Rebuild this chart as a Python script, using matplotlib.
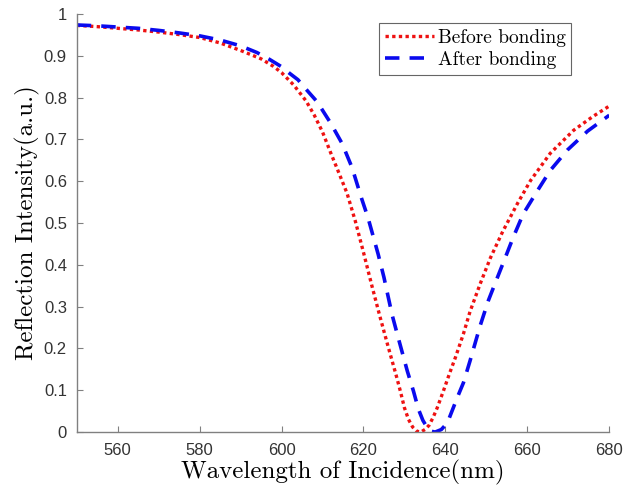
import matplotlib
matplotlib.use("Agg")
import matplotlib.pyplot as plt

# wavelength (nm) / reflection
wl_before = [550, 555, 560, 565, 570, 575, 580, 585, 590, 595, 598, 600, 603, 606,
             608, 610, 612, 614, 616, 618, 620, 622, 624, 626, 628, 629, 630, 631,
             632, 633, 634, 635, 636, 637, 638, 639.5, 641, 642.5, 644.4, 646, 648.5,
             651, 654, 657.6, 660.8, 665.6, 671.3, 676, 680]
r_before = [0.973, 0.970, 0.966, 0.962, 0.957, 0.951, 0.944, 0.931, 0.913, 0.893, 0.875,
            0.860, 0.830, 0.792, 0.758, 0.718, 0.668, 0.620, 0.571, 0.505, 0.430, 0.352,
            0.277, 0.205, 0.135, 0.098, 0.058, 0.030, 0.012, 0.002, 0.0, 0.006, 0.016,
            0.035, 0.058, 0.098, 0.140, 0.180, 0.235, 0.288, 0.355, 0.417, 0.480, 0.547,
            0.602, 0.667, 0.722, 0.755, 0.780]

wl_after = [550, 555, 560, 565, 570, 575, 580, 585, 590, 594, 597, 600, 602, 604, 606,
            608.7, 612, 614.8, 617.2, 619.5, 621.1, 623.6, 625, 627, 628.5, 630.7, 632.2,
            633.4, 634.5, 635.6, 636.5, 637.5, 639, 640.5, 641, 642, 643, 644.4, 646,
            648.5, 650.5, 652.7, 654.6, 656.6, 659, 662.5, 665.6, 669.8, 674.7, 680]
r_after = [0.974, 0.972, 0.969, 0.966, 0.961, 0.955, 0.948, 0.938, 0.924, 0.908, 0.892,
           0.874, 0.858, 0.843, 0.820, 0.790, 0.739, 0.690, 0.633, 0.560, 0.513, 0.425,
           0.370, 0.280, 0.225, 0.146, 0.098, 0.055, 0.028, 0.010, 0.002, 0.0, 0.006,
           0.022, 0.035, 0.060, 0.085, 0.118, 0.170, 0.255, 0.315, 0.370, 0.417, 0.467,
           0.522, 0.578, 0.626, 0.675, 0.720, 0.758]

xticks = [560, 580, 600, 620, 640, 660, 680]
yticks = [0, 0.1, 0.2, 0.3, 0.4, 0.5, 0.6, 0.7, 0.8, 0.9, 1]
ytick_labels = ["0", "0.1", "0.2", "0.3", "0.4", "0.5", "0.6", "0.7", "0.8", "0.9", "1"]

fig = plt.figure(figsize=(6.34, 4.86), dpi=100)
ax = fig.add_axes([0.121, 0.111, 0.840, 0.860])

ax.plot(wl_before, r_before, color='#ee1111', lw=2.4, linestyle=(0, (1, 1.0)),
        label='Before bonding')
ax.plot(wl_after, r_after, color='#0a0aee', lw=2.6, linestyle=(0, (4.0, 2.8)),
        label='After bonding')

ax.set_xlim(550, 680)
ax.set_ylim(0, 1)
ax.set_xticks(xticks)
ax.set_yticks(yticks)
ax.set_yticklabels(ytick_labels)

for s in ['top', 'right']:
    ax.spines[s].set_visible(False)
for s in ['left', 'bottom']:
    ax.spines[s].set_color('#808080')
    ax.spines[s].set_linewidth(1.0)
ax.tick_params(direction='in', length=4, width=0.8, color='#808080',
               labelcolor='#333333', labelsize=12)
ax.tick_params(axis='x', pad=8)
ax.tick_params(axis='y', pad=7)
for lab in ax.get_xticklabels() + ax.get_yticklabels():
    lab.set_fontfamily('Liberation Sans')

ax.set_xlabel('Wavelength of Incidence(nm)', fontfamily='cmr10', fontsize=18,
              labelpad=1)
ax.set_ylabel('Reflection Intensity(a.u.)', fontfamily='cmr10', fontsize=18,
              labelpad=3)

leg = ax.legend(loc='upper right', bbox_to_anchor=(0.929, 0.978),
                prop={'family': 'cmr10', 'size': 14}, fancybox=False,
                handlelength=2.5, handletextpad=0.2, borderpad=0.3,
                labelspacing=0.2, borderaxespad=0)
leg.get_frame().set_edgecolor('#404040')
leg.get_frame().set_linewidth(0.8)

fig.savefig('out.png', dpi=100)
